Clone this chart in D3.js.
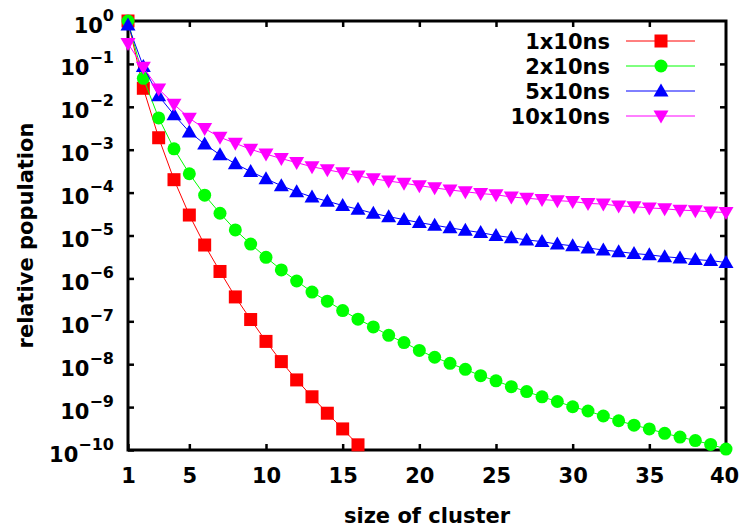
<!DOCTYPE html>
<html>
<head>
<meta charset="utf-8">
<script src="https://cdn.jsdelivr.net/npm/d3@7"></script>
<style>
  body { margin: 0; background: #fff; }
  svg text { font-family: "DejaVu Sans", "Liberation Sans", sans-serif; font-weight: bold; fill: #000; }
</style>
</head>
<body>
<div id="chart"></div>
<script>
// cluster sizes 1..40
var sizes = d3.range(1, 41)

// relative population per run length
var pop1x10 = [1, 2.7e-2, 1.9e-3, 2.0e-4, 3.0e-5, 6.0e-6, 1.45e-6, 3.7e-7, 1.1e-7, 3.4e-8,
  1.15e-8, 4.3e-9, 1.74e-9, 7.2e-10, 3.1e-10, 1.32e-10]

var pop2x10 = [1, 4.6e-2, 5.5e-3, 1.05e-3, 2.75e-4, 8.7e-5, 3.3e-5, 1.35e-5, 6.3e-6, 3.1e-6,
  1.58e-6, 8.7e-7, 4.8e-7, 2.95e-7, 1.78e-7, 1.12e-7, 7.4e-8, 4.7e-8, 3.2e-8, 2.1e-8,
  1.45e-8, 1.05e-8, 7.6e-9, 5.4e-9, 4.1e-9, 3.0e-9, 2.3e-9, 1.74e-9, 1.35e-9, 1.02e-9,
  8.1e-10, 6.2e-10, 4.8e-10, 3.8e-10, 3.1e-10, 2.45e-10, 2.0e-10, 1.66e-10, 1.35e-10, 1.05e-10]

var pop5x10 = [0.81, 8.7e-2, 1.8e-2, 6.5e-3, 2.6e-3, 1.35e-3, 7.6e-4, 4.7e-4, 3.1e-4, 2.1e-4,
  1.45e-4, 1.05e-4, 7.9e-5, 6.3e-5, 5.0e-5, 4.1e-5, 3.3e-5, 2.75e-5, 2.35e-5, 2.0e-5,
  1.74e-5, 1.51e-5, 1.32e-5, 1.17e-5, 1.0e-5, 8.9e-6, 7.9e-6, 7.2e-6, 6.3e-6, 5.75e-6,
  5.1e-6, 4.6e-6, 4.2e-6, 3.8e-6, 3.55e-6, 3.2e-6, 3.0e-6, 2.75e-6, 2.6e-6, 2.35e-6]

var pop10x10 = [0.30, 8.3e-2, 2.6e-2, 1.15e-2, 5.4e-3, 3.1e-3, 1.95e-3, 1.41e-3, 1.02e-3, 7.9e-4,
  6.2e-4, 5.0e-4, 4.0e-4, 3.4e-4, 2.9e-4, 2.45e-4, 2.1e-4, 1.86e-4, 1.66e-4, 1.45e-4,
  1.29e-4, 1.15e-4, 1.05e-4, 9.5e-5, 8.9e-5, 7.9e-5, 7.4e-5, 6.9e-5, 6.5e-5, 6.2e-5,
  5.6e-5, 5.4e-5, 4.9e-5, 4.7e-5, 4.4e-5, 4.2e-5, 3.9e-5, 3.8e-5, 3.55e-5, 3.45e-5]

var seriesNames = ["1x10ns", "2x10ns", "5x10ns", "10x10ns"]
var seriesColors = ["#ff0000", "#00ff00", "#0000ff", "#ff00ff"]
var seriesMarkers = ["square", "circle", "up", "down"]

var xTicks = [1, 5, 10, 15, 20, 25, 30, 35, 40]
var yExponents = [0, -1, -2, -3, -4, -5, -6, -7, -8, -9, -10]

var series = [pop1x10, pop2x10, pop5x10, pop10x10].map(function(vals, i){
    return {
        name: seriesNames[i],
        color: seriesColors[i],
        marker: seriesMarkers[i],
        points: vals.map(function(v, j){ return {x: sizes[j], y: v} })
    }
})

var width = 739, height = 531
var margin = {top: 21, right: 13, bottom: 81, left: 128}
var plotW = width - margin.left - margin.right,
    plotH = height - margin.top - margin.bottom

var svg = d3.select("#chart").append("svg")
    .attr("width", width)
    .attr("height", height)

var g = svg.append("g")
    .attr("transform", "translate(" + margin.left + "," + margin.top + ")")

var x = d3.scaleLinear().domain([1, 40]).range([0, plotW])
var y = d3.scaleLog().domain([1e-10, 1]).range([plotH, 0])

var tickLen = 6

// bottom axis
var xAxis = g.append("g")
    .attr("transform", "translate(0," + plotH + ")")
    .call(d3.axisBottom(x).tickValues(xTicks).tickSizeInner(-tickLen).tickSizeOuter(0))
xAxis.selectAll("text")
    .attr("y", 33).attr("dy", 0)
    .attr("x", function(d){ return d === 40 ? -2 : 0 })
    .style("font-size", "21px")

// top mirror ticks
g.append("g")
    .call(d3.axisTop(x).tickValues(xTicks.slice(1, -1)).tickSizeInner(-tickLen).tickSizeOuter(0).tickFormat(""))

// left axis
var yAxis = g.append("g")
    .call(d3.axisLeft(y).tickValues(yExponents.map(function(e){ return Math.pow(10, e) }))
        .tickSizeInner(-tickLen).tickSizeOuter(0).tickFormat(""))

yAxis.selectAll(".tick").each(function(d){
    var e = Math.round(Math.log10(d))
    var t = d3.select(this).select("text")
        .attr("x", -14)
        .attr("dy", 0)
        .attr("y", 11)
        .style("font-size", "21px")
        .attr("text-anchor", "end")
    t.append("tspan").text("10")
    t.append("tspan")
        .attr("dy", -12)
        .style("font-size", "16px")
        .text(e < 0 ? "\u2212" + (-e) : String(e))
})

// right mirror ticks
g.append("g")
    .attr("transform", "translate(" + plotW + ",0)")
    .call(d3.axisRight(y).tickValues(yExponents.slice(1, -1).map(function(e){ return Math.pow(10, e) }))
        .tickSizeInner(-tickLen).tickSizeOuter(0).tickFormat(""))

g.selectAll(".domain").remove()
g.selectAll(".tick line").attr("stroke", "#000").attr("stroke-width", 2.5)

// frame
g.append("rect")
    .attr("x", 0).attr("y", 0)
    .attr("width", plotW).attr("height", plotH)
    .attr("fill", "none")
    .attr("stroke", "#000")
    .attr("stroke-width", 3)

// axis titles
svg.append("text")
    .attr("x", margin.left + plotW / 2)
    .attr("y", 523)
    .attr("text-anchor", "middle")
    .style("font-size", "21px")
    .text("size of cluster")

svg.append("text")
    .attr("transform", "translate(33," + (margin.top + plotH / 2) + ") rotate(-90)")
    .attr("text-anchor", "middle")
    .style("font-size", "21px")
    .text("relative population")

function drawMarker(sel, kind, color){
    if(kind === "square"){
        sel.append("rect")
            .attr("x", -6.5).attr("y", -6.5).attr("width", 13).attr("height", 13)
            .attr("fill", color)
    }
    else if(kind === "circle"){
        sel.append("circle").attr("r", 6.5).attr("fill", color)
    }
    else if(kind === "up"){
        sel.append("path").attr("d", "M0,-7.5L7.5,5.5L-7.5,5.5Z").attr("fill", color)
    }
    else{
        sel.append("path").attr("d", "M0,7.5L7.5,-5.5L-7.5,-5.5Z").attr("fill", color)
    }
}

var line = d3.line()
    .x(function(d){ return x(d.x) })
    .y(function(d){ return y(d.y) })

series.forEach(function(s){
    g.append("path")
        .datum(s.points)
        .attr("fill", "none")
        .attr("stroke", s.color)
        .attr("stroke-width", 1)
        .attr("d", line)

    g.selectAll(".pt-" + s.marker)
        .data(s.points)
        .enter()
        .append("g")
        .attr("class", "pt-" + s.marker)
        .attr("transform", function(d){ return "translate(" + x(d.x) + "," + y(d.y) + ")" })
        .each(function(){ drawMarker(d3.select(this), s.marker, s.color) })
})

// legend
var legend = svg.append("g")
series.forEach(function(s, i){
    var ly = 41 + i * 25
    legend.append("text")
        .attr("x", 610).attr("y", ly + 8)
        .attr("text-anchor", "end")
        .style("font-size", "21px")
        .text(s.name)
    legend.append("line")
        .attr("x1", 626).attr("x2", 695)
        .attr("y1", ly).attr("y2", ly)
        .attr("stroke", s.color).attr("stroke-width", 1)
    var m = legend.append("g").attr("transform", "translate(661," + ly + ")")
    drawMarker(m, s.marker, s.color)
})
</script>
</body>
</html>
